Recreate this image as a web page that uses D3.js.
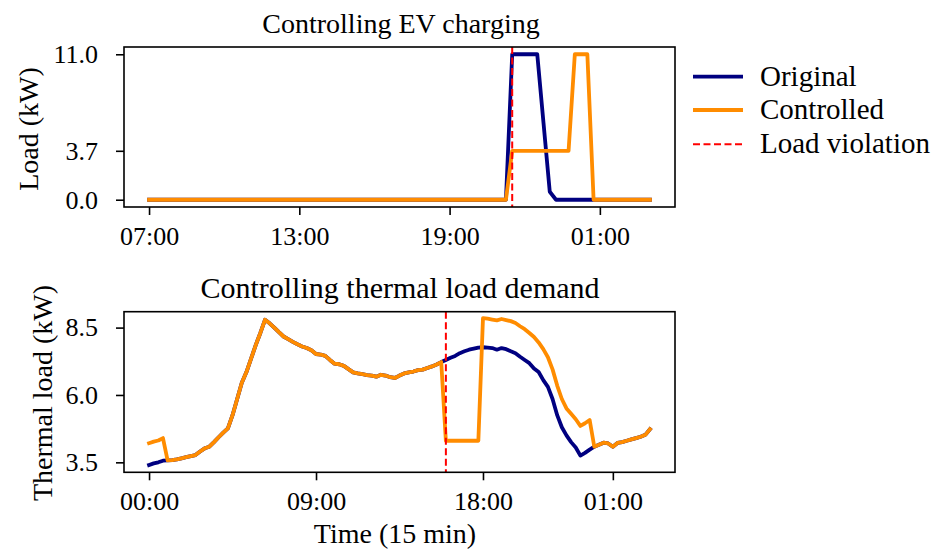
<!DOCTYPE html>
<html><head><meta charset="utf-8">
<script src="https://cdn.jsdelivr.net/npm/d3@7"></script>
<style>
body{margin:0;background:#fff}
svg{display:block}
text{font-family:"Liberation Serif","Times New Roman",serif;fill:#000}
</style>
</head><body>
<svg id="chart" width="940" height="549"></svg>
<script>
// ---------- DATA ----------
const evTickIdx = [0, 24, 48, 72];
const evTickLabels = ["07:00", "13:00", "19:00", "01:00"];
const evYTicks = [0.0, 3.7, 11.0];
const evOriginal = [
  0,0,0,0,0,0,0,0,0,0, 0,0,0,0,0,0,0,0,0,0,
  0,0,0,0,0,0,0,0,0,0, 0,0,0,0,0,0,0,0,0,0,
  0,0,0,0,0,0,0,0,0,0, 0,0,0,0,0,0,0,0,
  11,11,11,11,11, 5.8, 0.6,
  0,0,0,0,0,0,0,0,0,0,0,0,0,0,0,0
];
const evControlled = [
  0,0,0,0,0,0,0,0,0,0, 0,0,0,0,0,0,0,0,0,0,
  0,0,0,0,0,0,0,0,0,0, 0,0,0,0,0,0,0,0,0,0,
  0,0,0,0,0,0,0,0,0,0, 0,0,0,0,0,0,0,0,
  3.7,3.7,3.7,3.7,3.7,3.7,3.7,3.7,3.7,3.7,
  11,11,11,
  0,0,0,0,0,0,0,0,0,0
];
const evViolationIdx = 58;

const thTickIdx = [0, 36, 72, 100];
const thTickLabels = ["00:00", "09:00", "18:00", "01:00"];
const thYTicks = [3.5, 6.0, 8.5];
const thOriginal = [
  3.40,3.46,3.50,3.56,
  3.57,3.58,3.61,3.65,3.69,3.73,3.77,3.90,4.02,4.08,4.25,4.43,4.60,4.76,5.25,5.85,
  6.45,6.85,7.35,7.85,8.30,8.79,8.66,8.50,8.33,8.17,8.07,7.97,7.88,7.80,7.74,7.66,
  7.52,7.50,7.45,7.30,7.16,7.14,7.08,6.96,6.84,6.80,6.77,6.74,6.72,6.68,6.75,6.72,
  6.66,6.63,6.72,6.80,6.84,6.87,6.92,6.94,7.00,7.06,7.13,7.22,
  7.30,7.38,7.45,7.55,7.62,7.68,7.72,7.76,7.77,7.76,7.74,7.68,7.74,7.70,7.62,7.55,
  7.42,7.30,7.18,6.98,6.85,6.55,6.30,5.85,5.25,4.80,4.50,4.25,4.05,3.75,3.85,3.97,
  4.08,4.15,4.23,4.20,4.08,4.22,4.25,4.30,4.35,4.40,4.45,4.52,4.73
];
const thControlled = [
  4.21,4.27,4.31,4.40,
  3.57,3.58,3.61,3.65,3.69,3.73,3.77,3.90,4.02,4.08,4.25,4.43,4.60,4.76,5.25,5.85,
  6.45,6.85,7.35,7.85,8.30,8.79,8.66,8.50,8.33,8.17,8.07,7.97,7.88,7.80,7.74,7.66,
  7.52,7.50,7.45,7.30,7.16,7.14,7.08,6.96,6.84,6.80,6.77,6.74,6.72,6.68,6.75,6.72,
  6.66,6.63,6.72,6.80,6.84,6.87,6.92,6.94,7.00,7.06,7.13,7.22,
  4.30,4.30,4.30,4.30,4.30,4.30,4.30,4.30,
  8.85,8.83,8.80,8.77,8.82,8.78,8.74,8.67,8.55,8.44,8.30,8.15,7.95,7.70,7.40,6.95,
  6.35,5.85,5.50,5.30,5.10,4.85,4.95,5.07,
  4.08,4.15,4.23,4.20,4.08,4.22,4.25,4.30,4.35,4.40,4.45,4.52,4.73
];
const thViolationIdx = 64;

const seriesNames = ["Original", "Controlled", "Load violation"];
const seriesColors = ["#000080", "#ff8c00", "#ff0000"];

// ---------- DRAW ----------
const svg = d3.select("#chart");
svg.append("rect").attr("width", 940).attr("height", 549).attr("fill", "#fff");

const L = 124, R = 675;
const TICK_FS = 26, LABEL_FS = 28, LEGEND_FS = 29;

function panel(o) {
  const n = o.original.length;
  const pad = (n - 1) * 0.05;
  const x = d3.scaleLinear().domain([-pad, n - 1 + pad]).range([L, R]);
  const y = d3.scaleLinear().domain(o.yDomain).range([o.bottom, o.top]);
  const g = svg.append("g");

  const line = d3.line().x((d, i) => x(i)).y(d => y(d));
  g.append("path").datum(o.original).attr("d", line)
    .attr("fill", "none").attr("stroke", seriesColors[0]).attr("stroke-width", 3.8)
    .attr("stroke-linejoin", "round").attr("stroke-linecap", "square");
  g.append("path").datum(o.controlled).attr("d", line)
    .attr("fill", "none").attr("stroke", seriesColors[1]).attr("stroke-width", 3.8)
    .attr("stroke-linejoin", "round").attr("stroke-linecap", "square");
  g.append("line")
    .attr("x1", x(o.violation)).attr("x2", x(o.violation))
    .attr("y1", o.top).attr("y2", o.bottom)
    .attr("stroke", seriesColors[2]).attr("stroke-width", 2).attr("stroke-dasharray", "7,3.5");

  // axes
  const xa = g.append("g").attr("transform", `translate(0,${o.bottom})`)
    .call(d3.axisBottom(x).tickValues(o.tickIdx).tickFormat((d, i) => o.tickLabels[i])
      .tickSize(8).tickPadding(11.5));
  const ya = g.append("g").attr("transform", `translate(${L},0)`)
    .call(d3.axisLeft(y).tickValues(o.yTicks).tickFormat(d3.format(".1f"))
      .tickSize(8).tickPadding(18));
  [xa, ya].forEach(a => {
    a.select(".domain").remove();
    a.attr("font-family", null).attr("font-size", null);
    a.selectAll(".tick line").attr("stroke", "#000").attr("stroke-width", 1.6);
    a.selectAll(".tick text").style("font-size", TICK_FS + "px").attr("fill", "#000");
  });

  // spines
  g.append("rect").attr("x", L).attr("y", o.top).attr("width", R - L).attr("height", o.bottom - o.top)
    .attr("fill", "none").attr("stroke", "#000").attr("stroke-width", 1.6);

  // title
  g.append("text").attr("x", o.titleX).attr("y", o.titleY).attr("text-anchor", "middle")
    .style("font-size", o.titleFs + "px").text(o.title);
  // y label
  g.append("text").attr("transform", `translate(${o.ylabelX},${o.ylabelY}) rotate(-90)`)
    .attr("text-anchor", "middle").style("font-size", LABEL_FS + "px").text(o.ylabel);
}

panel({
  original: evOriginal, controlled: evControlled, violation: evViolationIdx,
  tickIdx: evTickIdx, tickLabels: evTickLabels, yTicks: evYTicks,
  yDomain: [-0.55, 11.55], top: 47, bottom: 207,
  title: "Controlling EV charging", titleX: 401, titleY: 33, titleFs: 28,
  ylabel: "Load (kW)", ylabelX: 38, ylabelY: 129
});
panel({
  original: thOriginal, controlled: thControlled, violation: thViolationIdx,
  tickIdx: thTickIdx, tickLabels: thTickLabels, yTicks: thYTicks,
  yDomain: [3.13, 9.09], top: 311.7, bottom: 472.3,
  title: "Controlling thermal load demand", titleX: 400, titleY: 298, titleFs: 30,
  ylabel: "Thermal load (kW)", ylabelX: 52, ylabelY: 393
});

// x label
svg.append("text").attr("x", 395).attr("y", 543).attr("text-anchor", "middle")
  .style("font-size", LABEL_FS + "px").text("Time (15 min)");

// legend
const legY = [76.7, 110, 144.3];
const leg = svg.append("g");
seriesNames.forEach((name, i) => {
  const ln = leg.append("line").attr("x1", 693).attr("x2", 743).attr("y1", legY[i]).attr("y2", legY[i])
    .attr("stroke", seriesColors[i]).attr("stroke-width", i === 2 ? 2 : 3.8);
  if (i === 2) ln.attr("stroke-dasharray", "7,3.5");
  leg.append("text").attr("x", 760).attr("y", legY[i] + 9).style("font-size", LEGEND_FS + "px").text(name);
});
</script>
</body></html>
